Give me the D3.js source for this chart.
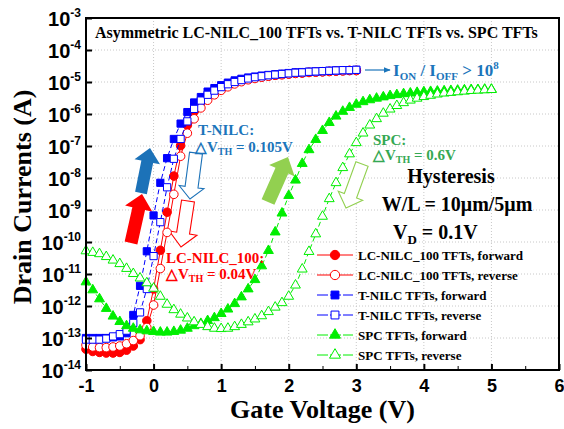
<!DOCTYPE html>
<html>
<head>
<meta charset="utf-8">
<script src="https://cdn.jsdelivr.net/npm/d3@7"></script>
<style>
  body { margin: 0; background: #fff; }
  svg { display: block; }
</style>
</head>
<body>
<div id="chart"></div>
<script>
const width = 564;
const height = 429;

// gate voltage sweeps (V)
const vgNilc = [-1.0, -0.9, -0.8, -0.7, -0.6, -0.5, -0.4, -0.3, -0.2, -0.1, 0.0, 0.1, 0.2, 0.3, 0.4, 0.5, 0.6, 0.7, 0.8, 0.9,
  1.0, 1.1, 1.2, 1.3, 1.4, 1.5, 1.6, 1.7, 1.8, 1.9, 2.0, 2.1, 2.2, 2.3, 2.4, 2.5, 2.6, 2.7, 2.8, 2.9, 3.0];
const vgSpc = [-1.0, -0.9, -0.8, -0.7, -0.6, -0.5, -0.4, -0.3, -0.2, -0.1, 0.0, 0.1, 0.2, 0.3, 0.4, 0.5, 0.6, 0.7, 0.8, 0.9,
  1.0, 1.1, 1.2, 1.3, 1.4, 1.5, 1.6, 1.7, 1.8, 1.9, 2.0, 2.1, 2.2, 2.3, 2.4, 2.5, 2.6, 2.7, 2.8, 2.9,
  3.0, 3.1, 3.2, 3.3, 3.4, 3.5, 3.6, 3.7, 3.8, 3.9, 4.0, 4.1, 4.2, 4.3, 4.4, 4.5, 4.6, 4.7, 4.8, 4.9, 5.0];

// log10 of drain current (A)
const lcForward = [-13.35, -13.42, -13.45, -13.47, -13.47, -13.45, -13.38, -13.25, -13.05, -12.46, -11.47, -10.26, -9.07, -7.94, -6.99,
  -6.35, -5.92, -5.62, -5.42, -5.28, -5.17, -5.08, -5.01, -4.95, -4.91, -4.87, -4.84, -4.81, -4.79, -4.77, -4.75, -4.73, -4.72,
  -4.70, -4.69, -4.68, -4.67, -4.66, -4.65, -4.64, -4.64];
const lcReverse = [-13.22, -13.28, -13.30, -13.30, -13.28, -13.25, -13.18, -13.08, -12.93, -12.67, -11.97, -10.83, -9.70, -8.51, -7.32,
  -6.60, -6.15, -5.81, -5.57, -5.40, -5.26, -5.15, -5.06, -4.99, -4.93, -4.89, -4.85, -4.82, -4.79, -4.77, -4.75, -4.73, -4.71,
  -4.70, -4.69, -4.68, -4.67, -4.66, -4.65, -4.64, -4.64];
const tnilcForward = [-13.00, -13.00, -13.00, -13.00, -12.98, -12.95, -12.85, -12.28, -11.37, -10.29, -9.17, -8.15, -7.38, -6.78, -6.30,
  -5.94, -5.64, -5.47, -5.30, -5.19, -5.10, -5.02, -4.95, -4.90, -4.86, -4.83, -4.80, -4.78, -4.76, -4.74, -4.72, -4.70, -4.69,
  -4.68, -4.67, -4.66, -4.65, -4.64, -4.63, -4.63, -4.62];
const tnilcReverse = [-13.05, -13.05, -13.05, -13.02, -12.95, -12.88, -12.77, -12.53, -12.20, -11.47, -10.44, -9.38, -8.29, -7.40, -6.78,
  -6.23, -5.84, -5.58, -5.40, -5.27, -5.16, -5.07, -5.00, -4.94, -4.89, -4.85, -4.82, -4.79, -4.77, -4.75, -4.73, -4.71, -4.70,
  -4.68, -4.67, -4.66, -4.65, -4.64, -4.63, -4.63, -4.62];
const spcForward = [-11.25, -11.50, -11.78, -12.08, -12.32, -12.49, -12.62, -12.70, -12.75, -12.78, -12.80, -12.82, -12.82, -12.80, -12.76,
  -12.70, -12.62, -12.55, -12.46, -12.37, -12.24, -12.10, -11.93, -11.72, -11.47, -11.18, -10.75, -10.27, -9.69, -9.10,
  -8.55, -8.07, -7.55, -7.12, -6.80, -6.52, -6.27, -6.07, -5.92, -5.80, -5.70, -5.62, -5.56, -5.51, -5.47, -5.43, -5.40,
  -5.37, -5.35, -5.33, -5.31, -5.30, -5.29, -5.28, -5.27, -5.26, -5.25, -5.24, -5.24, -5.23, -5.23];
const spcReverse = [-10.28, -10.33, -10.37, -10.46, -10.57, -10.68, -10.83, -10.99, -11.13, -11.28, -11.45, -11.70, -11.95, -12.12, -12.26,
  -12.38, -12.50, -12.58, -12.65, -12.70, -12.71, -12.70, -12.65, -12.58, -12.50, -12.41, -12.31, -12.18, -12.04, -11.90,
  -11.70, -11.35, -10.85, -10.30, -9.75, -9.20, -8.65, -8.15, -7.68, -7.25, -6.90, -6.60, -6.35, -6.15, -5.98, -5.85, -5.74,
  -5.65, -5.57, -5.51, -5.46, -5.42, -5.38, -5.35, -5.33, -5.31, -5.29, -5.27, -5.26, -5.25, -5.24];

const seriesNames = ["LC-NILC_100 TFTs, forward", "LC-NILC_100 TFTs, reverse", "T-NILC TFTs, forward",
  "T-NILC TFTs, reverse", "SPC TFTs, forward", "SPC TFTs, reverse"];
const yTickExps = [-14, -13, -12, -11, -10, -9, -8, -7, -6, -5, -4, -3];
const xTicks = [-1, 0, 1, 2, 3, 4, 5, 6];
const xMinorTicks = [-0.5, 0.5, 1.5, 2.5, 3.5, 4.5, 5.5];

const serif = "'Liberation Serif', 'Times New Roman', serif";
const sans = "'Liberation Sans', Arial, sans-serif";
const blueText = "#1b75bb";
const greenText = "#35a853";

const series = [
  { name: seriesNames[0], vg: vgNilc, logI: lcForward, color: "#ff0000", shape: d3.symbolCircle, size: 58, filled: true, dash: null },
  { name: seriesNames[1], vg: vgNilc, logI: lcReverse, color: "#ff0000", shape: d3.symbolCircle, size: 58, filled: false, dash: null },
  { name: seriesNames[2], vg: vgNilc, logI: tnilcForward, color: "#0000ff", shape: d3.symbolSquare, size: 52, filled: true, dash: "5,3" },
  { name: seriesNames[3], vg: vgNilc, logI: tnilcReverse, color: "#0000ff", shape: d3.symbolSquare, size: 52, filled: false, dash: "5,3" },
  { name: seriesNames[4], vg: vgSpc, logI: spcForward, color: "#00ee00", shape: d3.symbolTriangle, size: 42, filled: true, dash: "5,3" },
  { name: seriesNames[5], vg: vgSpc, logI: spcReverse, color: "#00ee00", shape: d3.symbolTriangle, size: 42, filled: false, dash: "5,3" }
];

const margin = { left: 86, top: 18, right: 5, bottom: 59 };
const plotW = width - margin.left - margin.right;
const plotH = height - margin.top - margin.bottom;

const svg = d3.select("#chart").append("svg")
  .attr("width", width)
  .attr("height", height);

const x = d3.scaleLinear().domain([-1, 6]).range([margin.left, margin.left + plotW]);
const y = d3.scaleLog().domain([1e-14, 1e-3]).range([margin.top + plotH, margin.top]);

// grid
const grid = svg.append("g");
grid.selectAll("line.gx").data(xTicks.slice(1, -1)).enter().append("line")
  .attr("x1", d => x(d)).attr("x2", d => x(d))
  .attr("y1", margin.top).attr("y2", margin.top + plotH)
  .attr("stroke", "#c8c8c8").attr("stroke-dasharray", "1,2");
grid.selectAll("line.gy").data(yTickExps.slice(1, -1)).enter().append("line")
  .attr("y1", d => y(Math.pow(10, d))).attr("y2", d => y(Math.pow(10, d)))
  .attr("x1", margin.left).attr("x2", margin.left + plotW)
  .attr("stroke", "#c8c8c8").attr("stroke-dasharray", "1,2");

// block arrows (annotation shapes)
function blockArrow(x0, y0, x1, y1, bodyW, headW, headL) {
  const len = Math.hypot(x1 - x0, y1 - y0);
  const ang = Math.atan2(y1 - y0, x1 - x0) * 180 / Math.PI;
  const b = bodyW / 2, h = headW / 2, s = len - headL;
  const pts = [[0, -b], [s, -b], [s, -h], [len, 0], [s, h], [s, b], [0, b]];
  return { d: "M" + pts.map(p => p.join(",")).join("L") + "Z", t: `translate(${x0},${y0}) rotate(${ang})` };
}
const arrows = [
  { a: [131, 243, 142, 194, 13, 28, 15], fill: "#ff0000", stroke: "none" },
  { a: [141, 193, 150, 148, 12, 26, 14], fill: "#1c72b8", stroke: "none" },
  { a: [196, 153, 190, 199, 13, 25, 12], fill: "#fff", stroke: "#1c72b8" },
  { a: [188, 201, 181, 247, 13, 28, 14], fill: "#fff", stroke: "#ff0000" },
  { a: [268, 202, 288, 157, 14, 28, 15], fill: "#92d050", stroke: "none" },
  { a: [362, 164, 346, 208, 13, 26, 13], fill: "#fff", stroke: "#92d050" }
];
arrows.forEach(ar => {
  const p = blockArrow(...ar.a);
  svg.append("path").attr("d", p.d).attr("transform", p.t)
    .attr("fill", ar.fill).attr("stroke", ar.stroke).attr("stroke-width", 1.1);
});

// data
const line = d3.line().x(d => x(d[0])).y(d => y(Math.pow(10, d[1])));
series.forEach(s => {
  const pts = s.vg.map((v, i) => [v, s.logI[i]]);
  const g = svg.append("g");
  g.append("path").attr("d", line(pts)).attr("fill", "none")
    .attr("stroke", s.color).attr("stroke-width", 1)
    .attr("stroke-dasharray", s.dash);
  g.selectAll("path.m").data(pts).enter().append("path")
    .attr("d", d3.symbol().type(s.shape).size(s.size))
    .attr("transform", d => `translate(${x(d[0])},${y(Math.pow(10, d[1]))})`)
    .attr("fill", s.filled ? s.color : "#fff")
    .attr("stroke", s.color).attr("stroke-width", 1);
});

// frame and axes
svg.append("rect").attr("x", margin.left).attr("y", margin.top)
  .attr("width", plotW).attr("height", plotH)
  .attr("fill", "none").attr("stroke", "#000").attr("stroke-width", 2);

const xAxis = svg.append("g").attr("transform", `translate(0,${margin.top + plotH})`)
  .call(d3.axisBottom(x).tickValues(xTicks).tickSize(-6).tickFormat(d3.format("d")));
svg.append("g").attr("transform", `translate(0,${margin.top + plotH})`)
  .call(d3.axisBottom(x).tickValues(xMinorTicks).tickSize(-4).tickFormat(""))
  .call(g => g.select(".domain").remove());
xAxis.select(".domain").remove();
xAxis.selectAll(".tick line").attr("stroke-width", 2);
xAxis.selectAll(".tick text").attr("y", 9).attr("dy", "0.71em")
  .attr("font-family", sans).attr("font-weight", "bold").attr("font-size", 18).attr("fill", "#000")
  .text(d => d < 0 ? "-" + Math.abs(d) : d);

const yAxis = svg.append("g").attr("transform", `translate(${margin.left},0)`)
  .call(d3.axisLeft(y).tickValues(yTickExps.map(e => Math.pow(10, e))).tickSize(-6).tickFormat(""));
yAxis.select(".domain").remove();
yAxis.selectAll(".tick line").attr("stroke-width", 2);
yTickExps.forEach(e => {
  const t = svg.append("text").attr("x", 81).attr("y", y(Math.pow(10, e)) + 8)
    .attr("text-anchor", "end").attr("font-family", sans).attr("font-weight", "bold")
    .attr("font-size", 20).attr("fill", "#000");
  t.append("tspan").text("10");
  t.append("tspan").attr("dy", -9).attr("font-size", 12).text("-" + Math.abs(e));
});

// axis titles
svg.append("text").attr("transform", `translate(31,197) rotate(-90)`)
  .attr("text-anchor", "middle").attr("font-family", serif).attr("font-weight", "bold")
  .attr("font-size", 26).text("Drain Currents (A)");
svg.append("text").attr("x", margin.left + plotW / 2).attr("y", 418)
  .attr("text-anchor", "middle").attr("font-family", serif).attr("font-weight", "bold")
  .attr("font-size", 26).text("Gate Voltage (V)");

// title inside plot
svg.append("text").attr("x", 95).attr("y", 38)
  .attr("font-family", serif).attr("font-weight", "bold").attr("font-size", 16)
  .text("Asymmetric LC-NILC_100 TFTs vs. T-NILC TFTs vs. SPC TFTs");

// annotation helper: text with subscript piece
function dvth(xp, yp, color, value) {
  const t = svg.append("text").attr("x", xp).attr("y", yp)
    .attr("font-family", serif).attr("font-weight", "bold").attr("font-size", 15).attr("fill", color);
  t.append("tspan").text("\u25B3V");
  t.append("tspan").attr("dy", 3).attr("font-size", 10).text("TH");
  t.append("tspan").attr("dy", -3).text(" = " + value);
}
svg.append("text").attr("x", 198).attr("y", 135).attr("font-family", serif).attr("font-weight", "bold")
  .attr("font-size", 15).attr("fill", blueText).text("T-NILC:");
dvth(195, 152, blueText, "0.105V");
svg.append("text").attr("x", 166).attr("y", 263).attr("font-family", serif).attr("font-weight", "bold")
  .attr("font-size", 15).attr("fill", "#ff0000").text("LC-NILC_100:");
dvth(166, 279, "#ff0000", "0.04V");
svg.append("text").attr("x", 373).attr("y", 145).attr("font-family", serif).attr("font-weight", "bold")
  .attr("font-size", 15).attr("fill", greenText).text("SPC:");
dvth(373, 160, greenText, "0.6V");

// on/off ratio
svg.append("defs").append("marker").attr("id", "ah").attr("viewBox", "0 0 10 10")
  .attr("refX", 9).attr("refY", 5).attr("markerWidth", 6).attr("markerHeight", 6).attr("orient", "auto")
  .append("path").attr("d", "M0,1L10,5L0,9Z").attr("fill", blueText);
svg.append("line").attr("x1", 365).attr("x2", 390).attr("y1", 70).attr("y2", 70)
  .attr("stroke", blueText).attr("stroke-width", 1.2).attr("marker-end", "url(#ah)");
const onoff = svg.append("text").attr("x", 393).attr("y", 76).attr("font-family", serif)
  .attr("font-weight", "bold").attr("font-size", 17).attr("fill", blueText);
onoff.append("tspan").text("I");
onoff.append("tspan").attr("dy", 4).attr("font-size", 11).text("ON");
onoff.append("tspan").attr("dy", -4).text(" / I");
onoff.append("tspan").attr("dy", 4).attr("font-size", 11).text("OFF");
onoff.append("tspan").attr("dy", -4).text(" > 10");
onoff.append("tspan").attr("dy", -7).attr("font-size", 11).text("8");

// conditions
svg.append("text").attr("x", 451).attr("y", 183).attr("text-anchor", "middle").attr("font-family", serif)
  .attr("font-weight", "bold").attr("font-size", 20).text("Hysteresis");
svg.append("text").attr("x", 457).attr("y", 211).attr("text-anchor", "middle").attr("font-family", serif)
  .attr("font-weight", "bold").attr("font-size", 20).text("W/L = 10\u03BCm/5\u03BCm");
const vd = svg.append("text").attr("x", 393).attr("y", 239).attr("font-family", serif)
  .attr("font-weight", "bold").attr("font-size", 20);
vd.append("tspan").text("V");
vd.append("tspan").attr("dy", 5).attr("font-size", 13).text("D");
vd.append("tspan").attr("dy", -5).text(" = 0.1V");

// legend
const legend = svg.append("g");
series.forEach((s, i) => {
  const ly = 255 + i * 20;
  legend.append("line").attr("x1", 317).attr("x2", 353).attr("y1", ly).attr("y2", ly)
    .attr("stroke", s.color).attr("stroke-width", 1).attr("stroke-dasharray", s.dash ? "11,2" : null);
  legend.append("path").attr("d", d3.symbol().type(s.shape).size(s.size + 10))
    .attr("transform", `translate(335,${ly})`)
    .attr("fill", s.filled ? s.color : "#fff").attr("stroke", s.color);
  legend.append("text").attr("x", 358).attr("y", ly + 4.5).attr("font-family", serif)
    .attr("font-weight", "bold").attr("font-size", 13).text(s.name);
});
</script>
</body>
</html>
